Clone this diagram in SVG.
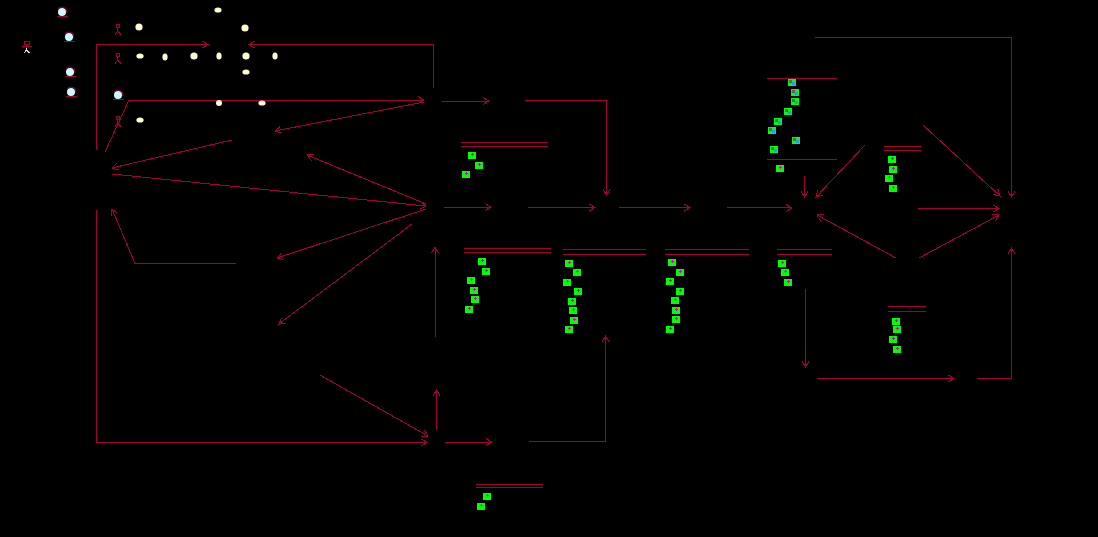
<svg xmlns="http://www.w3.org/2000/svg" width="1098" height="537" viewBox="0 0 1098 537">
<style>
.c{fill:none;stroke:#a50034;stroke-width:1;marker-end:url(#a);shape-rendering:crispEdges}
.u{fill:none;stroke:#a50034;stroke-width:1;shape-rendering:crispEdges}
.g{fill:#00ff00;shape-rendering:crispEdges}
.m{fill:#c010b0;shape-rendering:crispEdges}
.t{fill:#20a0e0;shape-rendering:crispEdges}
.k{fill:#606060;shape-rendering:crispEdges}
.y{fill:#fffbd0}
.b{fill:#c8fbff}
.r{fill:none;stroke:#a50034;stroke-width:1;shape-rendering:crispEdges}
.w{fill:none;stroke:#e0e0e0;stroke-width:1;shape-rendering:crispEdges}
</style>
<defs>
<marker id="a" viewBox="0 0 8 8" refX="7" refY="4" markerWidth="8" markerHeight="8" markerUnits="userSpaceOnUse" orient="auto"><path d="M1 0.500L7 4L1 7.500M4 4H0" fill="none" stroke="#a50034" stroke-width="1" shape-rendering="crispEdges"/></marker>
<g id="gm"><rect class="g" x="-4" y="-3" width="8" height="7"/><path class="m" d="M0 -2h1v1h1v1h-1v1h-1v-1h-1v-1h1z"/></g>
<g id="gt"><rect class="g" x="-4" y="-3" width="8" height="7"/><rect class="k" x="-3" y="-2" width="3" height="3"/><rect class="t" x="0" y="0" width="3" height="3"/></g>
<g id="bl"><circle class="b" r="4"/><path fill="none" stroke="#a50034" d="M-4 -3.500Q0 -6.500 4 -3.500L5 1"/><path class="r" d="M-5.500 4.500H5.500"/></g>
<g id="ac"><path class="r" d="M-1.500 -3.500h3v3h-3zM-0.500 0v3M-3 6.500L-0.500 3L3 6.500"/></g>
<ellipse id="oh" class="y" rx="3.600" ry="2.600"/>
<ellipse id="ov" class="y" rx="2.600" ry="3.600"/>
<circle id="cy" class="y" r="3.600"/>
</defs>
<rect width="1098" height="537" fill="#000"/>
<g id="connectors">
<path class="c" d="M105 152L129 100H424"/>
<path class="c" d="M96.500 150V44.500H208"/>
<path class="c" d="M433 88L433 44.500H249"/>
<path class="c" d="M424 102L275 131"/>
<path class="c" d="M442 101H489"/>
<path class="c" d="M525 100.500H606.500V195"/>
<path class="c" d="M232 140L112 168"/>
<path class="c" d="M112 174L426 206"/>
<path class="c" d="M426 204L307 155"/>
<path class="c" d="M426 209L277 258"/>
<path class="c" d="M412 224L279 324"/>
<path class="c" d="M236 263.500H135L112 209"/>
<path class="c" d="M96.500 210V442.500H427"/>
<path class="c" d="M320 375L428 436"/>
<path class="c" d="M436.500 430V390"/>
<path class="c" d="M436 337L435 247"/>
<path class="c" d="M445 442H492"/>
<path class="c" d="M529 441.500H605.500V336"/>
<path class="c" d="M444 207H491"/>
<path class="c" d="M528 207.500H595"/>
<path class="c" d="M619 207.500H690"/>
<path class="c" d="M727 207.500L792 208"/>
<path class="c" d="M804.500 176V197"/>
<path class="c" d="M865 145L816 197"/>
<path class="c" d="M896 258L817 215"/>
<path class="c" d="M919 258L999 215"/>
<path class="c" d="M918 208.500H999"/>
<path class="c" d="M923 125L1000 196"/>
<path class="c" d="M815 37.500H1011.500V197"/>
<path class="c" d="M977 378.500H1011.500V248"/>
<path class="c" d="M805.500 289V367"/>
<path class="c" d="M817 378.500H954"/>
<path class="u" d="M461 142.500H548M461 146.500H548M464 248.500H551M464 252.500H551M563 249.500H646M563 254.500H646M665 249.500H749M665 254.500H749M777 249.500H832M777 254.500H832M884 146.500H921M884 150.500H921M888 306.500H926M888 311.500H926M476 484.500H543M476 487.500H543M767 78.500H837M767 159.500H837"/>
</g>
<g id="actor-main"><path class="r" d="M24.500 41.500h5v3h-5zM22 46.500H32M26.500 45v3"/><path class="w" d="M26.500 48v2L24 53M26.500 50L29.500 53"/></g>
<g id="boundaries">
<use href="#bl" x="62" y="12"/><use href="#bl" x="69" y="37"/><use href="#bl" x="70" y="72"/><use href="#bl" x="71" y="92"/><use href="#bl" x="118" y="95"/>
</g>
<g id="actors"><use href="#ac" x="118" y="28"/><use href="#ac" x="118" y="57"/><use href="#ac" x="118" y="120"/></g>
<g id="controls">
<use href="#cy" x="139" y="27"/><use href="#cy" x="245" y="28"/><use href="#cy" x="194" y="56"/><use href="#cy" x="246" y="56"/>
<use href="#oh" x="218" y="10"/><use href="#oh" x="140" y="56"/><use href="#oh" x="246" y="72"/><use href="#oh" x="262" y="103"/><use href="#oh" x="140" y="120"/>
<use href="#ov" x="219" y="56"/><use href="#ov" x="275" y="56"/><use href="#ov" x="165" y="57"/><circle class="y" cx="219" cy="103" r="3"/>
</g>
<g id="items-magenta">
<use href="#gm" x="472" y="155"/><use href="#gm" x="479" y="165"/><use href="#gm" x="466" y="174"/>
<use href="#gm" x="482" y="261"/><use href="#gm" x="486" y="271"/><use href="#gm" x="471" y="280"/><use href="#gm" x="474" y="290"/><use href="#gm" x="475" y="299"/><use href="#gm" x="469" y="309"/>
<use href="#gm" x="569" y="263"/><use href="#gm" x="577" y="272"/><use href="#gm" x="567" y="282"/><use href="#gm" x="578" y="291"/><use href="#gm" x="572" y="301"/><use href="#gm" x="573" y="310"/><use href="#gm" x="574" y="320"/><use href="#gm" x="569" y="329"/>
<use href="#gm" x="672" y="262"/><use href="#gm" x="680" y="272"/><use href="#gm" x="670" y="281"/><use href="#gm" x="680" y="291"/><use href="#gm" x="675" y="300"/><use href="#gm" x="676" y="310"/><use href="#gm" x="676" y="319"/><use href="#gm" x="670" y="329"/>
<use href="#gm" x="782" y="263"/><use href="#gm" x="785" y="272"/><use href="#gm" x="788" y="282"/>
<use href="#gm" x="892" y="159"/><use href="#gm" x="893" y="169"/><use href="#gm" x="889" y="178"/><use href="#gm" x="893" y="188"/>
<use href="#gm" x="896" y="321"/><use href="#gm" x="897" y="329"/><use href="#gm" x="893" y="339"/><use href="#gm" x="897" y="349"/>
<use href="#gm" x="487" y="496"/><use href="#gm" x="481" y="506"/><use href="#gm" x="780" y="168"/>
</g>
<g id="items-teal">
<use href="#gt" x="792" y="82"/><use href="#gt" x="795" y="92"/><use href="#gt" x="795" y="101"/><use href="#gt" x="788" y="111"/><use href="#gt" x="778" y="121"/><use href="#gt" x="772" y="130"/><use href="#gt" x="796" y="140"/><use href="#gt" x="774" y="149"/>
</g>
</svg>
